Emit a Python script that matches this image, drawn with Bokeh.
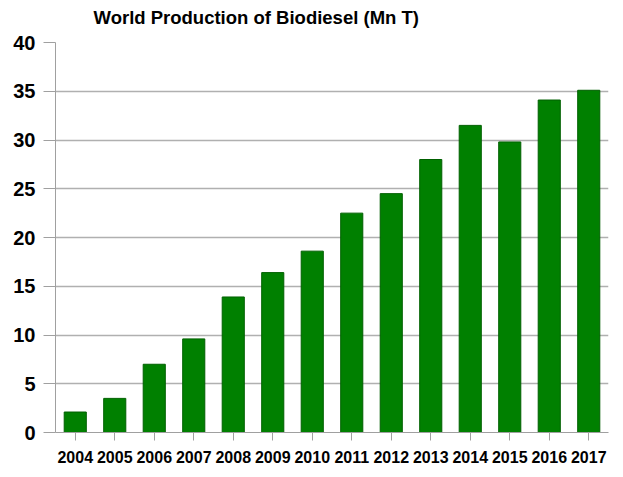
from bokeh.plotting import figure
from bokeh.models import ColumnDataSource, FixedTicker, Range1d, Title
from bokeh.embed import file_html
from bokeh.resources import INLINE

years = ["2004", "2005", "2006", "2007", "2008", "2009", "2010",
         "2011", "2012", "2013", "2014", "2015", "2016", "2017"]
production = [2.1, 3.5, 7.0, 9.6, 13.9, 16.4, 18.6,
              22.5, 24.5, 28.0, 31.5, 29.8, 34.1, 35.1]
y_ticks = [0, 5, 10, 15, 20, 25, 30, 35, 40]
title_text = "World Production of Biodiesel (Mn T)"

FONT = "Liberation Sans"

src = ColumnDataSource(dict(year=years, value=production))

p = figure(x_range=years, y_range=Range1d(0, 40), width=618, height=480,
           output_backend="svg", toolbar_location=None, title=None,
           min_border_left=55, min_border_right=10, min_border_top=52,
           min_border_bottom=38)
p.styles = {"margin-top": "-10px"}
p.outline_line_color = None
p.background_fill_color = "white"
p.border_fill_color = "white"

p.vbar(x="year", top="value", width=0.56, source=src,
       fill_color="#008000", line_color="#006000", line_width=1)

t = Title(text=title_text, align="left", offset=38,
          text_font=FONT, text_font_size="18.5px", text_font_style="bold",
          text_color="#000000", standoff=29)
p.add_layout(t, "above")

# y axis
p.yaxis.ticker = FixedTicker(ticks=y_ticks)
p.yaxis.axis_line_color = "#a0a0a0"
p.yaxis.major_tick_line_color = "#a0a0a0"
p.yaxis.major_tick_out = 12
p.yaxis.major_tick_in = 0
p.yaxis.minor_tick_line_color = None
p.yaxis.major_label_text_font = FONT
p.yaxis.major_label_text_font_size = "20px"
p.yaxis.major_label_text_font_style = "bold"
p.yaxis.major_label_text_color = "#000000"
p.yaxis.major_label_standoff = 8

# x axis
p.xaxis.axis_line_color = "#a0a0a0"
p.xaxis.major_tick_line_color = "#a0a0a0"
p.xaxis.major_tick_out = 8
p.xaxis.major_tick_in = 0
p.xaxis.major_label_text_font = FONT
p.xaxis.major_label_text_font_size = "16px"
p.xaxis.major_label_text_font_style = "bold"
p.xaxis.major_label_text_color = "#000000"
p.xaxis.major_label_standoff = 10

p.xgrid.grid_line_color = None
p.ygrid.grid_line_color = "#b0b0b0"
p.ygrid.grid_line_width = 1.5
p.x_range.range_padding = 0

open("out.html", "w").write(file_html(p, INLINE))
